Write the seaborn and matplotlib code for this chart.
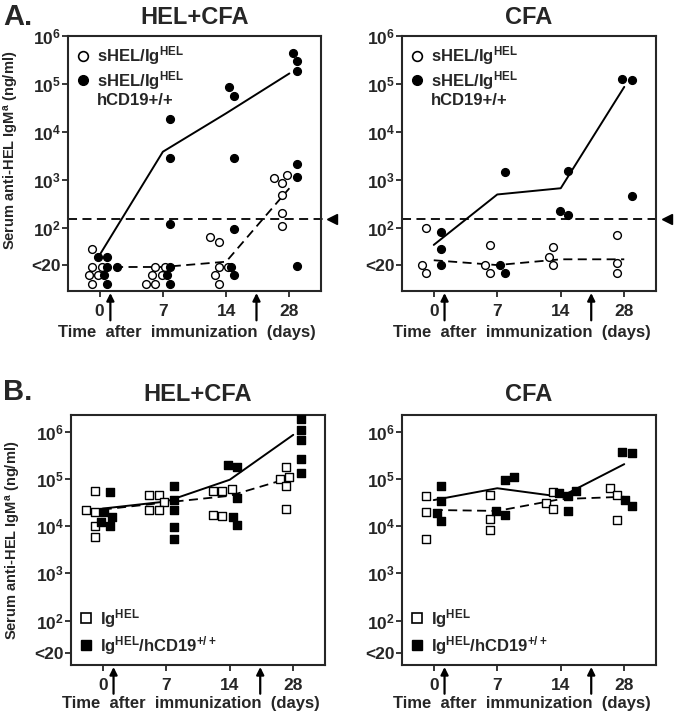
import pandas as pd
import seaborn as sns
import matplotlib.pyplot as plt
from matplotlib.lines import Line2D

sns.set_style('ticks')
plt.rcParams['font.family'] = ['Liberation Sans', 'DejaVu Sans']
plt.rcParams['font.weight'] = 'bold'
plt.rcParams['mathtext.fontset'] = 'custom'
plt.rcParams['mathtext.rm'] = 'Liberation Sans:bold'
plt.rcParams['mathtext.bf'] = 'Liberation Sans:bold'
plt.rcParams['mathtext.default'] = 'bf'

days = ['0', '7', '14', '28']

# values are log10 of serum anti-HEL IgMa (ng/ml)
# points drawn below the "<20" tick are undetectable sera
# A. HEL+CFA : sHEL/IgHEL (open) and sHEL/IgHEL hCD19+/+ (filled)
a_hel_open = {'0': [1.56, 1.20, 1.20, 1.02, 1.02, 0.84],
              '7': [1.20, 1.20, 1.02, 1.02, 0.84, 0.84],
              '14': [1.81, 1.71, 1.20, 1.20, 1.02, 0.84],
              '28': [3.10, 3.04, 2.94, 2.69, 2.31, 2.04]}
a_hel_filled = {'0': [1.40, 1.40, 1.20, 1.20, 1.02, 0.84],
                '7': [4.27, 3.46, 2.08, 1.20, 1.02, 0.84],
                '14': [4.93, 4.76, 3.46, 1.98, 1.20, 1.02],
                '28': [5.65, 5.48, 5.27, 3.33, 3.07, 1.21]}
a_hel_mean_open = [1.19, 1.19, 1.30, 2.83]
a_hel_mean_filled = [1.44, 3.59, 4.39, 5.22]

# A. CFA
a_cfa_open = {'0': [2.00, 1.23, 1.06], '7': [1.65, 1.23, 1.06],
              '14': [1.60, 1.40, 1.23], '28': [1.85, 1.27, 1.06]}
a_cfa_filled = {'0': [1.92, 1.56, 1.23], '7': [3.16, 1.23, 1.06],
                '14': [3.19, 2.35, 2.27], '28': [5.11, 5.08, 2.67]}
a_cfa_mean_open = [1.33, 1.23, 1.35, 1.35]
a_cfa_mean_filled = [1.65, 2.70, 2.83, 4.94]

# B. HEL+CFA : IgHEL (open) and IgHEL/hCD19+/+ (filled)
b_hel_open = {'0': [4.75, 4.33, 4.29, 4.01, 3.77],
              '7': [4.66, 4.66, 4.50, 4.34, 4.34],
              '14': [4.78, 4.75, 4.75, 4.24, 4.22],
              '28': [5.25, 5.03, 4.99, 4.84, 4.37]}
b_hel_filled = {'0': [4.73, 4.29, 4.20, 4.08, 4.01],
                '7': [4.84, 4.56, 4.34, 3.98, 3.73],
                '14': [5.30, 5.26, 4.59, 4.20, 4.03],
                '28': [6.26, 6.04, 5.82, 5.42, 5.13]}
b_hel_mean_open = [4.35, 4.50, 4.64, 5.04]
b_hel_mean_filled = [4.37, 4.52, 4.98, 5.93]

# B. CFA
b_cfa_open = {'0': [4.63, 4.29, 3.73], '7': [4.66, 4.15, 3.91],
              '14': [4.72, 4.49, 4.37], '28': [4.80, 4.66, 4.13]}
b_cfa_filled = {'0': [4.85, 4.53, 4.27, 4.10], '7': [5.04, 4.98, 4.32, 4.24],
                '14': [4.75, 4.70, 4.64, 4.31], '28': [5.56, 5.54, 4.56, 4.43]}
b_cfa_mean_open = [4.34, 4.32, 4.57, 4.62]
b_cfa_mean_filled = [4.55, 4.80, 4.62, 5.31]

cutoff = 2.19          # detection cut-off (dashed line, panel A)
lt20_a = 1.23          # where "<20" sits on the panel A axis
lt20_b = 1.31          # same for panel B


def to_frame(vals):
    rows = []
    for i, d in enumerate(days):
        for v in vals[d]:
            rows.append({'idx': i, 'logv': v})
    return pd.DataFrame(rows)


def panel(ax, open_vals, filled_vals, mean_open, mean_filled, marker,
          ylim, lt20, title, title_pad, xlab_y):
    # each group sits a little left / right of its day
    for vals, face, shift in [(open_vals, 'white', -0.12), (filled_vals, 'black', 0.12)]:
        df = to_frame(vals)
        df['pos'] = df['idx'] + shift
        sns.swarmplot(data=df, x='pos', y='logv', native_scale=True, orient='x',
                      color=face, edgecolor='black', linewidth=1.0,
                      marker=marker, size=5.6, zorder=3, ax=ax)
    ax.plot(range(4), mean_filled, color='black', lw=1.4, zorder=2)
    ax.plot(range(4), mean_open, color='black', lw=1.3, ls=(0, (5, 3)), zorder=2)
    ax.set_xlim(-0.5, 3.5)
    ax.set_ylim(*ylim)
    ax.set_yticks([lt20, 2, 3, 4, 5, 6])
    ax.set_yticklabels(['<20'] + [r'$10^{%d}$' % k for k in range(2, 7)])
    ax.set_xticks(range(4))
    ax.set_xticklabels(days)
    ax.tick_params(axis='both', labelsize=12.5, length=4, width=1.3, direction='out')
    ax.tick_params(axis='x', pad=5)
    ax.tick_params(axis='y', pad=1)
    for s in ax.spines.values():
        s.set_visible(True)
        s.set_linewidth(1.5)
    ax.set_ylabel('')
    ax.set_xlabel('Time  after  immunization  (days)', fontsize=12, fontweight='bold')
    ax.xaxis.set_label_coords(0.47, xlab_y)
    ax.set_title(title, fontsize=17, fontweight='bold', pad=title_pad)
    # immunization / boost arrows
    for xa in [0.17, 2.48]:
        ax.annotate('', xy=(xa, -0.008), xycoords=('data', 'axes fraction'),
                    xytext=(xa, -0.115), textcoords=('data', 'axes fraction'),
                    arrowprops=dict(arrowstyle='-|>', color='black', lw=1.6,
                                    mutation_scale=11, shrinkA=0, shrinkB=0),
                    annotation_clip=False)


fig = plt.figure(figsize=(6.74, 7.2), dpi=100)
ax_a1 = fig.add_axes([68 / 674, 1 - 291 / 720, 253 / 674, 255 / 720])
ax_a2 = fig.add_axes([402 / 674, 1 - 291 / 720, 254 / 674, 255 / 720])
ax_b1 = fig.add_axes([71 / 674, 1 - 665 / 720, 254 / 674, 250 / 720])
ax_b2 = fig.add_axes([402 / 674, 1 - 665 / 720, 254 / 674, 250 / 720])

panel(ax_a1, a_hel_open, a_hel_filled, a_hel_mean_open, a_hel_mean_filled,
      'o', (0.69, 6.0), lt20_a, 'HEL+CFA', 9, -0.132)
panel(ax_a2, a_cfa_open, a_cfa_filled, a_cfa_mean_open, a_cfa_mean_filled,
      'o', (0.69, 6.0), lt20_a, 'CFA', 9, -0.132)
panel(ax_b1, b_hel_open, b_hel_filled, b_hel_mean_open, b_hel_mean_filled,
      's', (1.06, 6.35), lt20_b, 'HEL+CFA', 10, -0.125)
panel(ax_b2, b_cfa_open, b_cfa_filled, b_cfa_mean_open, b_cfa_mean_filled,
      's', (1.06, 6.35), lt20_b, 'CFA', 10, -0.125)

# cut-off line with marker outside the frame
for ax in [ax_a1, ax_a2]:
    ax.plot([-0.5, 3.56], [cutoff, cutoff], color='black', lw=1.3,
            ls=(0, (5, 3)), clip_on=False, zorder=2)
    ax.plot([3.67], [cutoff], marker='<', ms=7, color='black', clip_on=False)

ylab = r'Serum anti-HEL IgM$^{a}$ (ng/ml)'
ax_a1.set_ylabel(ylab, fontsize=10.5, fontweight='bold')
ax_a1.yaxis.set_label_coords(-0.185, 0.55)
ax_b1.set_ylabel(ylab, fontsize=10.5, fontweight='bold')
ax_b1.yaxis.set_label_coords(-0.19, 0.5)

circ_open = Line2D([], [], ls='none', marker='o', ms=7, mfc='white', mec='black', mew=1.2)
circ_fill = Line2D([], [], ls='none', marker='o', ms=7, mfc='black', mec='black')
blank = Line2D([], [], ls='none')
for ax in [ax_a1, ax_a2]:
    ax.legend([circ_open, circ_fill, blank],
              [r'sHEL/Ig$^{HEL}$', r'sHEL/Ig$^{HEL}$', 'hCD19+/+'],
              loc='upper left', frameon=False, fontsize=12, handletextpad=0.45,
              handlelength=0.8, labelspacing=0.1, borderaxespad=0.15,
              borderpad=0.35)

sq_open = Line2D([], [], ls='none', marker='s', ms=7, mfc='white', mec='black', mew=1.2)
sq_fill = Line2D([], [], ls='none', marker='s', ms=7, mfc='black', mec='black')
for ax in [ax_b1, ax_b2]:
    ax.legend([sq_open, sq_fill],
              [r'Ig$^{HEL}$', r'Ig$^{HEL}$/hCD19$^{+/+}$'],
              loc='lower left', frameon=False, fontsize=12, handletextpad=0.45,
              handlelength=0.8, labelspacing=0.25, borderaxespad=0.15,
              borderpad=0.35)

fig.text(0.005, 1 - 17 / 720, 'A.', fontsize=21, fontweight='bold', va='center')
fig.text(0.005, 1 - 392 / 720, 'B.', fontsize=21, fontweight='bold', va='center')

fig.savefig('out.png', dpi=100)
